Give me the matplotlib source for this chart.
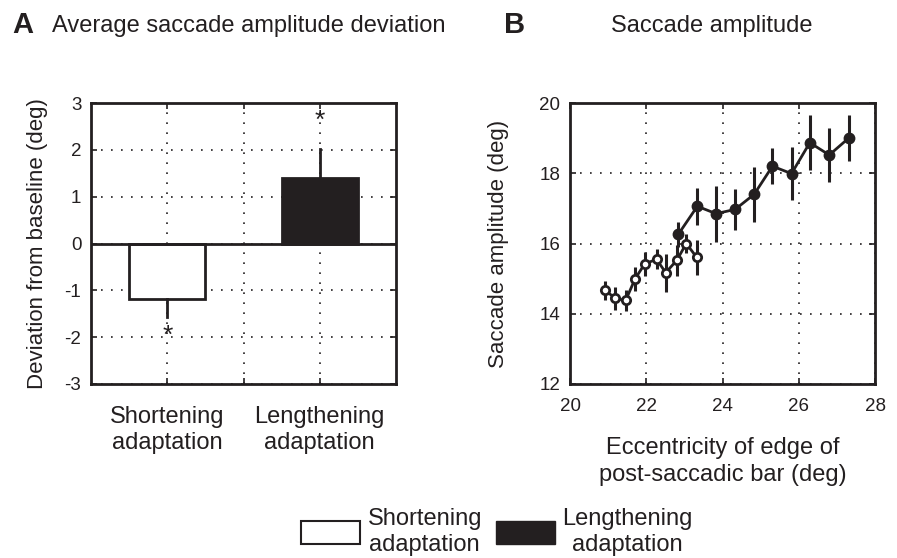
import matplotlib.pyplot as plt
from matplotlib.patches import Patch
import numpy as np

plt.rcParams['font.family'] = ['Liberation Sans', 'DejaVu Sans']
plt.rcParams['axes.unicode_minus'] = False

# Panel A: average deviation
conditions = ["Shortening\nadaptation", "Lengthening\nadaptation"]
deviation = [-1.18, 1.39]
deviation_err = [0.38, 0.62]
star_y = [-1.97, 2.62]

# Panel B: saccade amplitude vs eccentricity
short_x = [20.93, 21.18, 21.46, 21.71, 21.96, 22.27, 22.51, 22.80, 23.05, 23.32]
short_y = [14.67, 14.44, 14.38, 15.00, 15.42, 15.55, 15.17, 15.52, 16.00, 15.61]
short_err = [0.27, 0.33, 0.30, 0.34, 0.35, 0.28, 0.54, 0.45, 0.27, 0.50]

long_x = [22.84, 23.34, 23.83, 24.33, 24.83, 25.31, 25.81, 26.29, 26.80, 27.32]
long_y = [16.26, 17.06, 16.85, 16.97, 17.40, 18.20, 17.99, 18.87, 18.52, 19.01]
long_err = [0.36, 0.52, 0.80, 0.58, 0.79, 0.52, 0.75, 0.78, 0.78, 0.65]

INK = '#231f20'
fig = plt.figure(figsize=(8.97, 5.58), dpi=100)
W, H = 897, 558

def px_axes(x0, y0, x1, y1):
    return fig.add_axes([x0 / W, 1 - y1 / H, (x1 - x0) / W, (y1 - y0) / H])

def style_axes(ax):
    for s in ax.spines.values():
        s.set_linewidth(2)
        s.set_color(INK)
    ax.tick_params(direction='in', top=True, right=True, length=4, width=1.2,
                   labelsize=13.5, pad=7, colors=INK)
    ax.grid(True, linestyle=(0, (1, 5)), color=INK, linewidth=1.2)

# ---- Panel A
axA = px_axes(91, 103, 396, 384)
pos = [1, 2]
axA.bar(pos, deviation, width=0.5, color=['white', INK],
        edgecolor=INK, linewidth=2, zorder=3)
for p, v, e in zip(pos, deviation, deviation_err):
    sgn = np.sign(v)
    axA.plot([p, p], [v, v + sgn * e], color=INK, lw=2, zorder=3)
for p, s in zip(pos, star_y):
    axA.text(p, s, '*', ha='center', va='center', fontsize=19, color=INK, zorder=4)
axA.axhline(0, color=INK, lw=2, zorder=4)
axA.set_xlim(0.5, 2.5)
axA.set_ylim(-3, 3)
axA.set_xticks([1, 1.5, 2])
axA.set_xticklabels([conditions[0], '', conditions[1]])
axA.set_yticks([-3, -2, -1, 0, 1, 2, 3])
style_axes(axA)
axA.tick_params(axis='x', labelsize=17, pad=16)
axA.set_ylabel('Deviation from baseline (deg)', fontsize=16, labelpad=12, color=INK)

# ---- Panel B
axB = px_axes(570, 103, 875, 384)
axB.errorbar(short_x, short_y, yerr=short_err, color=INK, lw=2,
             elinewidth=2.2, capsize=0, marker='o', markersize=6,
             markerfacecolor='white', markeredgewidth=2, zorder=3)
axB.errorbar(long_x, long_y, yerr=long_err, color=INK, lw=2,
             elinewidth=2.2, capsize=0, marker='o', markersize=7,
             markerfacecolor=INK, markeredgewidth=1.5, zorder=3)
axB.set_xlim(20, 28)
axB.set_ylim(12, 20)
axB.set_xticks([20, 22, 24, 26, 28])
axB.set_yticks([12, 14, 16, 18, 20])
style_axes(axB)
axB.tick_params(axis='x', pad=10)
axB.set_ylabel('Saccade amplitude (deg)', fontsize=16, labelpad=22, color=INK)
axB.set_xlabel('Eccentricity of edge of\npost-saccadic bar (deg)', fontsize=17,
               labelpad=16, color=INK, linespacing=1.3)

# ---- titles
fig.text(12 / W, 1 - 25 / H, 'A', fontsize=21, fontweight='bold', va='center', color=INK)
fig.text(52 / W, 1 - 26 / H, 'Average saccade amplitude deviation', fontsize=17,
         va='center', color=INK)
fig.text(504 / W, 1 - 25 / H, 'B', fontsize=21, fontweight='bold', va='center', color=INK)
fig.text(712 / W, 1 - 26 / H, 'Saccade amplitude', fontsize=17, va='center',
         ha='center', color=INK)

# ---- legend
handles = [Patch(facecolor='white', edgecolor=INK, linewidth=1.5),
           Patch(facecolor=INK, edgecolor=INK)]
leg = fig.legend(handles, conditions, loc='center',
                 bbox_to_anchor=(497 / W, 1 - 532 / H),
                 ncol=2, frameon=False, fontsize=17, handlelength=2.5,
                 handleheight=1.1, columnspacing=0.6, handletextpad=0.3,
                 labelspacing=0.2, borderpad=0.1, labelcolor=INK)
for t in leg.get_texts():
    t.set_multialignment('center')

fig.savefig('out.png', dpi=100)
